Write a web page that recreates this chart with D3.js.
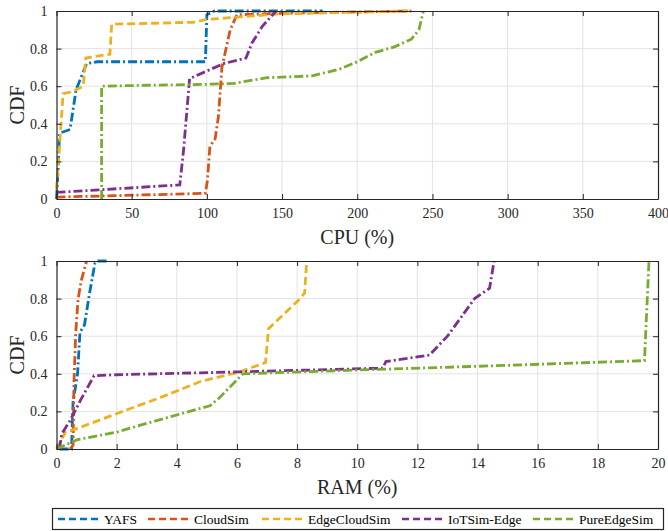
<!DOCTYPE html>
<html>
  <head>
    <meta charset="utf-8">
    <title>CPU and RAM CDF</title>
    <script src="https://d3js.org/d3.v7.min.js"></script>
    <style>
      body { margin: 0; background: #fff; }
      .grid line { stroke: #e3e3e3; stroke-width: 1; }
      .axis path, .axis line { stroke: #262626; }
    </style>
  </head>
  <body>
    <svg id="chart" width="668" height="531"></svg>
    <script>
      // series names and colours (matlab defaults)
      names = ["YAFS", "CloudSim", "EdgeCloudSim", "IoTSim-Edge", "PureEdgeSim"];
      colours = ["#0072BD", "#D95319", "#EDB120", "#7E2F8E", "#77AC30"];
      dashes = ["9,3,2,3", "9,3,2,3", "8,4", "9,3,2,3", "9,3,2,3"];
      yTicks = [0, 0.2, 0.4, 0.6, 0.8, 1];
      cpuTicks = [0, 50, 100, 150, 200, 250, 300, 350, 400];
      ramTicks = [0, 2, 4, 6, 8, 10, 12, 14, 16, 18, 20];

      // CPU (%) vs CDF
      cpuYAFS = [[0, 0], [1, 0.15], [2, 0.35], [9, 0.37], [13, 0.58], [20, 0.72], [27, 0.73], [99, 0.73], [100, 0.98], [105, 1.0], [177, 1.0]];
      cpuCloudSim = [[0, 0.01], [99, 0.03], [100.4, 0.1], [102, 0.28], [105.5, 0.32], [107.7, 0.44], [110, 0.7], [115.5, 0.9], [120, 0.98], [160, 0.99], [236, 1.0]];
      cpuEdgeCloudSim = [[0, 0.05], [4.4, 0.56], [10, 0.57], [17.8, 0.6], [19.5, 0.75], [35.5, 0.77], [36.7, 0.93], [91, 0.94], [100, 0.955], [149, 0.985], [234, 1.0]];
      cpuIoTSim = [[0, 0.035], [82, 0.075], [84.5, 0.26], [88.5, 0.64], [111, 0.72], [126, 0.75], [130, 0.83], [137, 0.92], [146, 1.0]];
      cpuPureEdgeSim = [[30, 0], [30, 0.6], [60, 0.605], [100, 0.61], [118, 0.615], [140, 0.645], [170, 0.655], [188, 0.69], [200, 0.73], [212, 0.78], [225, 0.81], [236, 0.85], [241, 0.9], [244, 1.0]];

      // RAM (%) vs CDF
      ramYAFS = [[0.1, 0], [0.5, 0], [0.55, 0.25], [0.7, 0.4], [0.78, 0.62], [0.93, 0.66], [1.1, 0.83], [1.28, 0.99], [1.35, 1.0], [1.75, 1.0]];
      ramCloudSim = [[0.45, 0], [0.55, 0.02], [0.58, 0.35], [0.64, 0.62], [0.72, 0.8], [0.83, 0.9], [1.0, 1.0]];
      ramEdgeCloudSim = [[0, 0], [0.3, 0.09], [0.7, 0.11], [2.2, 0.2], [3.4, 0.27], [4.8, 0.36], [6.1, 0.41], [6.95, 0.46], [7.05, 0.64], [8.1, 0.8], [8.25, 0.83], [8.32, 1.0]];
      ramIoTSim = [[0.1, 0], [0.17, 0.08], [0.45, 0.15], [0.8, 0.26], [1.25, 0.39], [2, 0.395], [6, 0.41], [10.85, 0.43], [10.95, 0.465], [12.4, 0.5], [13, 0.6], [13.9, 0.8], [14.4, 0.855], [14.55, 1.0]];
      ramPureEdgeSim = [[0, 0], [0.7, 0.05], [2, 0.09], [3.3, 0.15], [5.1, 0.23], [5.4, 0.27], [6.2, 0.4], [10, 0.42], [15, 0.445], [19.55, 0.47], [19.7, 1.0]];

      chart = d3.select("#chart");
      serif = "'Liberation Serif', 'Times New Roman', serif";
      margin = { left: 56.5, right: 658 };

      function drawPanel(top, bottom, xMax, xTicks, series, label) {
        let x = d3.scaleLinear().domain([0, xMax]).range([margin.left, margin.right]);
        let y = d3.scaleLinear().domain([0, 1]).range([bottom, top]);
        let g = chart.append("g");
        // grid
        let grid = g.append("g").attr("class", "grid");
        grid.selectAll(".gx").data(xTicks.slice(1, -1)).join("line")
          .attr("x1", d => x(d)).attr("x2", d => x(d))
          .attr("y1", top).attr("y2", bottom);
        grid.selectAll(".gy").data(yTicks.slice(1, -1)).join("line")
          .attr("x1", margin.left).attr("x2", margin.right)
          .attr("y1", d => y(d)).attr("y2", d => y(d));
        // lines
        let line = d3.line().x(d => x(d[0])).y(d => y(d[1]));
        g.selectAll(".series").data(series).join("path")
          .attr("fill", "none")
          .attr("stroke", (d, i) => colours[i])
          .attr("stroke-width", 2.8)
          .attr("stroke-dasharray", (d, i) => dashes[i])
          .attr("d", d => line(d));
        // axes with inward ticks on all four sides
        g.append("g").attr("class", "axis")
          .attr("transform", "translate(0," + bottom + ")")
          .call(d3.axisBottom(x).tickValues(xTicks).tickSize(-5).tickSizeOuter(0).tickPadding(9).tickFormat(d3.format("d")));
        g.append("g").attr("class", "axis")
          .attr("transform", "translate(0," + top + ")")
          .call(d3.axisTop(x).tickValues(xTicks).tickSize(-5).tickSizeOuter(0).tickFormat(""));
        g.append("g").attr("class", "axis")
          .attr("transform", "translate(" + margin.left + ",0)")
          .call(d3.axisLeft(y).tickValues(yTicks).tickSize(-5).tickSizeOuter(0).tickPadding(9).tickFormat(d => d3.format("~g")(d)));
        g.append("g").attr("class", "axis")
          .attr("transform", "translate(" + margin.right + ",0)")
          .call(d3.axisRight(y).tickValues(yTicks).tickSize(-5).tickSizeOuter(0).tickFormat(""));
        g.selectAll(".axis").attr("font-family", serif).attr("font-size", 14);
        g.selectAll(".axis text").attr("fill", "#262626");
        g.selectAll(".axis .domain").attr("stroke-width", 1.2);
        // labels
        g.append("text")
          .attr("x", (margin.left + margin.right) / 2)
          .attr("y", bottom + 45)
          .attr("text-anchor", "middle")
          .attr("font-family", serif)
          .attr("font-size", 20)
          .attr("fill", "#262626")
          .text(label);
        g.append("text")
          .attr("transform", "translate(24," + (top + bottom) / 2 + ") rotate(-90)")
          .attr("text-anchor", "middle")
          .attr("font-family", serif)
          .attr("font-size", 20)
          .attr("fill", "#262626")
          .text("CDF");
      }

      drawPanel(11, 199, 400, cpuTicks, [cpuYAFS, cpuCloudSim, cpuEdgeCloudSim, cpuIoTSim, cpuPureEdgeSim], "CPU (%)");
      drawPanel(261, 449, 20, ramTicks, [ramYAFS, ramCloudSim, ramEdgeCloudSim, ramIoTSim, ramPureEdgeSim], "RAM (%)");

      // legend
      legend = chart.append("g");
      legend.append("rect")
        .attr("x", 52.5).attr("y", 508.5).attr("width", 611).attr("height", 21)
        .attr("fill", "#fff").attr("stroke", "#262626").attr("stroke-width", 1.2);
      legendX = [58, 148, 262, 402, 533];
      names.forEach(function(name, i) {
        legend.append("line")
          .attr("x1", legendX[i]).attr("x2", legendX[i] + 41)
          .attr("y1", 519).attr("y2", 519)
          .attr("stroke", colours[i]).attr("stroke-width", 2.5)
          .attr("stroke-dasharray", "7,4");
        legend.append("text")
          .attr("x", legendX[i] + 46).attr("y", 523.5)
          .attr("font-family", serif)
          .attr("font-size", 13.5).attr("fill", "#000")
          .text(name);
      });
    </script>
  </body>
</html>
